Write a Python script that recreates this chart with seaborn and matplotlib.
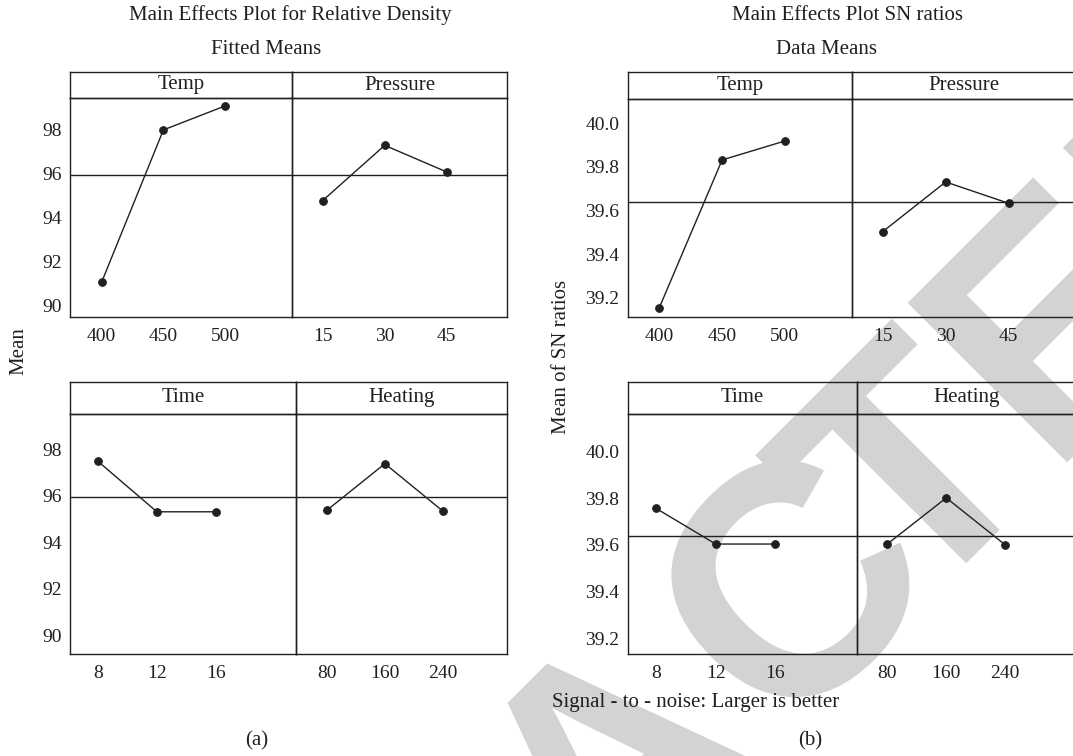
import numpy as np
import pandas as pd
import seaborn as sns
import matplotlib.pyplot as plt
from matplotlib.textpath import TextPath
from matplotlib.patches import PathPatch
from matplotlib.font_manager import FontProperties
from matplotlib.transforms import Affine2D, IdentityTransform

# factor levels
temp_levels = ['400', '450', '500']
pressure_levels = ['15', '30', '45']
time_levels = ['8', '12', '16']
heating_levels = ['80', '160', '240']

# (a) relative density, fitted means
density_temp = [91.09, 98.00, 99.09]
density_pressure = [94.79, 97.30, 96.09]
density_time = [97.48, 95.30, 95.30]
density_heating = [95.36, 97.37, 95.32]
density_mean = 95.95

# (b) SN ratios, data means
sn_temp = [39.154, 39.832, 39.919]
sn_pressure = [39.503, 39.731, 39.633]
sn_time = [39.757, 39.604, 39.604]
sn_heating = [39.604, 39.802, 39.600]
sn_mean = 39.64

density_ticks = [90, 92, 94, 96, 98]
sn_ticks = [39.2, 39.4, 39.6, 39.8, 40.0]

INK = '#231f20'
W, H = 1073, 756
TXT = 15     # titles, strips, axis labels
NUM = 14     # tick labels

sns.set_theme(style='white')
plt.rcParams['font.family'] = ['Liberation Serif', 'DejaVu Serif']
plt.rcParams['text.color'] = INK
plt.rcParams['xtick.color'] = INK
plt.rcParams['ytick.color'] = INK

fig = plt.figure(figsize=(W / 100, H / 100), dpi=100)
fig.patch.set_facecolor('white')


def rect(x0, x1, ytop, ybot):
    return [x0 / W, 1 - ybot / H, (x1 - x0) / W, (ybot - ytop) / H]


def panel(x0, x1, ytop, ymid, ybot, name, levels, values, mean, ylim, p0, step,
          ticks=None, fmt='{:.0f}'):
    # strip with factor name
    st = fig.add_axes(rect(x0, x1, ytop, ymid))
    st.set_facecolor('none')
    st.set_xticks([])
    st.set_yticks([])
    for s in st.spines.values():
        s.set_color(INK)
        s.set_linewidth(1.0)
    st.text(0.5, 0.5, name, ha='center', va='center', fontsize=TXT,
            transform=st.transAxes)

    ax = fig.add_axes(rect(x0, x1, ymid, ybot))
    ax.set_facecolor('none')
    sns.pointplot(x=levels, y=values, ax=ax, color=INK, markers='o',
                  markersize=5.5, linewidth=1.0, errorbar=None)
    ax.axhline(mean, color=INK, lw=1.0, zorder=1)
    ax.set_xlim((x0 - p0) / step, (x1 - p0) / step)
    ax.set_ylim(*ylim)
    ax.set_xlabel('')
    ax.set_ylabel('')
    ax.tick_params(axis='both', length=0, labelsize=NUM)
    ax.tick_params(axis='x', pad=8)
    ax.tick_params(axis='y', pad=6)
    if ticks is not None:
        ax.set_yticks(ticks)
        ax.set_yticklabels([fmt.format(t) for t in ticks])
    else:
        ax.set_yticks([])
    for s in ax.spines.values():
        s.set_color(INK)
        s.set_linewidth(1.0)
    return ax


# ---- (a) ----
panel(70, 292, 72, 98, 317, 'Temp', temp_levels, density_temp, density_mean,
      (89.5, 99.45), 101.7, 61.7, density_ticks)
panel(292, 507, 72, 98, 317, 'Pressure', pressure_levels, density_pressure, density_mean,
      (89.5, 99.45), 322.7, 62.0)
panel(70, 296.3, 381.7, 413.7, 654.3, 'Time', time_levels, density_time, density_mean,
      (89.17, 99.52), 97.7, 59.2, density_ticks)
panel(296.3, 507, 381.7, 413.7, 654.3, 'Heating', heating_levels, density_heating, density_mean,
      (89.17, 99.52), 326.7, 58.2)

# ---- (b) ----
panel(627.7, 852.3, 72.3, 98.7, 317.3, 'Temp', temp_levels, sn_temp, sn_mean,
      (39.11, 40.113), 659.3, 62.8, sn_ticks, '{:.1f}')
panel(852.3, 1076, 72.3, 98.7, 317.3, 'Pressure', pressure_levels, sn_pressure, sn_mean,
      (39.11, 40.113), 882.7, 63.0)
panel(627.7, 856.7, 381.7, 413.7, 654.3, 'Time', time_levels, sn_time, sn_mean,
      (39.131, 40.163), 656.0, 59.7, sn_ticks, '{:.1f}')
panel(856.7, 1076, 381.7, 413.7, 654.3, 'Heating', heating_levels, sn_heating, sn_mean,
      (39.131, 40.163), 887.3, 59.0)

# titles and labels
def ftext(x, y, s, **kw):
    fig.text(x / W, 1 - y / H, s, fontsize=TXT, **kw)

ftext(290, 15, 'Main Effects Plot for Relative Density', ha='center', va='center')
ftext(266, 49, 'Fitted Means', ha='center', va='center')
ftext(848, 15, 'Main Effects Plot SN ratios', ha='center', va='center')
ftext(826, 49, 'Data Means', ha='center', va='center')
ftext(19, 351, 'Mean', ha='center', va='center', rotation=90)
ftext(561, 357, 'Mean of SN ratios', ha='center', va='center', rotation=90)
ftext(552, 703, 'Signal - to - noise: Larger is better', ha='left', va='center')
ftext(257, 741, '(a)', ha='center', va='center')
ftext(810, 741, '(b)', ha='center', va='center')

# grey watermark behind the plots, letters placed along a 45 degree line
fp = FontProperties(family='Liberation Sans', weight='bold')
word = 'RETRACTED'
offsets = [-1150, -922, -712, -493, -256, 0, 163, 374, 602]
c_pos = np.array([788.0, 582.0])
direction = np.array([np.cos(np.radians(45)), -np.sin(np.radians(45))])
for ch, off in zip(word, offsets):
    centre = c_pos + off * direction
    tp = TextPath((0, 0), ch, size=328, prop=fp)
    bb = tp.get_extents()
    tr = (Affine2D().translate(-(bb.x0 + bb.x1) / 2, -(bb.y0 + bb.y1) / 2)
          .rotate_deg(45).translate(centre[0], H - centre[1]))
    patch = PathPatch(tr.transform_path(tp), facecolor='#d3d3d3', edgecolor='none',
                      transform=IdentityTransform(), zorder=-5)
    fig.add_artist(patch)

fig.savefig('out.png', dpi=100, facecolor='white')
